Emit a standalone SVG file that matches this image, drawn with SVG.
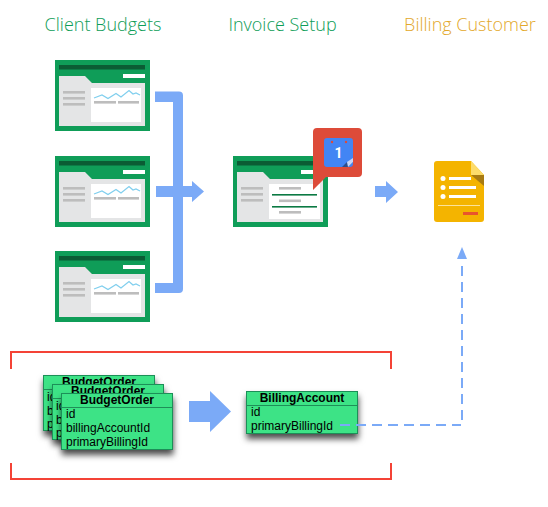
<svg xmlns="http://www.w3.org/2000/svg" width="548" height="507" viewBox="0 0 548 507">
<style>
.title{font-family:"Open Sans","Noto Sans",sans-serif;font-size:18px;font-weight:300;text-anchor:middle}
.th{font-family:"Liberation Sans",Arial,sans-serif;font-size:12px;font-weight:700;text-anchor:middle;fill:#000}
.tr{font-family:"Liberation Sans",Arial,sans-serif;font-size:12px;fill:#000}
.tb{fill:#3de386;stroke:#1f8f58;stroke-width:1}
.tl{stroke:#1f8f58;stroke-width:1}
.gl{fill:#bdbdbd}
.arrow{fill:#7baaf7}
</style>
<defs>
<filter id="sh" x="-15%" y="-15%" width="130%" height="160%"><feDropShadow dx="0.500" dy="5" stdDeviation="3" flood-color="#000" flood-opacity=".7"/></filter>
<g id="frame">
<rect width="95" height="71" fill="#0f9d58"/>
<rect x="4" y="5" width="86" height="4.500" fill="#0b5c34"/>
<rect x="68" y="14" width="22" height="4" fill="#fff"/>
<path d="M4 16H30L37 23H90V66H4Z" fill="#e4e5e6"/>
<rect class="gl" x="8" y="31" width="22" height="2.600"/><rect class="gl" x="8" y="37" width="22" height="2.600"/><rect class="gl" x="8" y="43" width="22" height="2.600"/>
</g>
<g id="sheet">
<use href="#frame"/>
<rect x="36" y="28" width="50" height="34" fill="#fff"/>
<path d="M39 38L47 35L53 38.500L61 33.500L66 37L74 30.500L78 34L81 33L85 35" fill="none" stroke="#81cfee" stroke-width="1.300"/>
<rect class="gl" x="39" y="41" width="22" height="2.600"/><rect class="gl" x="63" y="41" width="21" height="2.600"/>
</g>
</defs>
<text class="title" x="103" y="31" fill="#0f9d58">Client Budgets</text>
<text class="title" x="282.500" y="31" fill="#0f9d58">Invoice Setup</text>
<text class="title" x="470" y="31" fill="#e3a82b">Billing Customer</text>
<g id="sheet-1"><use href="#sheet" x="55" y="60"/></g>
<g id="sheet-2"><use href="#sheet" x="55" y="156"/></g>
<g id="sheet-3"><use href="#sheet" x="55" y="251"/></g>
<g id="invoice-setup">
<use href="#frame" x="233" y="156"/>
<rect x="269" y="184" width="51" height="35" fill="#fff"/>
<rect class="gl" x="279" y="187" width="22" height="2.600"/>
<rect x="272" y="194" width="45" height="1.600" fill="#0b7a43"/>
<rect class="gl" x="279" y="199.500" width="22" height="2.600"/>
<rect x="272" y="206" width="45" height="1.600" fill="#0b7a43"/>
<rect class="gl" x="279" y="211" width="22" height="2.600"/>
</g>
<g id="calendar">
<path d="M317 128H358Q362 128 362 132V173Q362 177 358 177H326L313 190V132Q313 128 317 128Z" fill="#dd4b39"/>
<rect x="324" y="138" width="29" height="29" rx="3" fill="#4285f4"/>
<circle cx="332" cy="142" r="1.200" fill="#dd4b39"/><circle cx="346" cy="142" r="1.200" fill="#dd4b39"/>
<path d="M353 162L348 167H342L347 162Z" fill="#2a4f8f"/><path d="M353 162V158L347 162L348 167Z" fill="#c5d5f7"/>
<text x="338.500" y="158" font-family="Roboto,'Liberation Sans',sans-serif" font-size="14" font-weight="700" fill="#fff" text-anchor="middle">1</text>
</g>
<g id="billing-doc">
<path d="M437 161H471L484 175V219Q484 222 481 222H437Q434 222 434 219V164Q434 161 437 161Z" fill="#f4b400"/>
<path d="M471 161L484 175H471Z" fill="#fddc6a"/><path d="M471 175H484V186Z" fill="#a87b12"/>
<g fill="#fff"><circle cx="443" cy="178.500" r="2.500"/><circle cx="443" cy="187.500" r="2.500"/><circle cx="443" cy="196.500" r="2.500"/>
<rect x="449" y="177" width="22" height="3"/><rect x="449" y="186" width="27" height="3"/><rect x="449" y="195" width="27" height="3"/></g>
<rect x="438" y="205" width="42" height="1" fill="#fbe29a"/>
<rect x="463" y="212" width="15" height="3" fill="#e8552d"/>
</g>
<g id="connectors">
<path class="arrow" d="M155 91.500H179Q183 91.500 183 95.500V289Q183 293 179 293H155V283H173V102H155Z"/>
<path class="arrow" d="M156 186H192V181L204 191.500L192 202V197H156Z"/>
<path class="arrow" d="M375 186H386V181L398 192L386 203V197H375Z"/>
<path class="arrow" d="M189 401H210V391L231 411.500L210 432V422H189Z"/>
</g>
<g id="budget-order-1">
<rect class="tb" x="43.500" y="375.500" width="111" height="55" filter="url(#sh)"/>
<line class="tl" x1="43.500" y1="389.500" x2="154.500" y2="389.500"/>
<text class="th" x="99" y="386">BudgetOrder</text>
<text class="tr" x="47" y="401">id</text><text class="tr" x="47" y="415">billingAccountId</text><text class="tr" x="47" y="428">primaryBillingId</text>
</g>
<g id="budget-order-2">
<rect class="tb" x="52.500" y="384.500" width="111" height="55" filter="url(#sh)"/>
<line class="tl" x1="52.500" y1="398.500" x2="163.500" y2="398.500"/>
<text class="th" x="108" y="395">BudgetOrder</text>
<text class="tr" x="56" y="410">id</text><text class="tr" x="56" y="424">billingAccountId</text><text class="tr" x="56" y="437">primaryBillingId</text>
</g>
<g id="budget-order-3">
<rect class="tb" x="61.500" y="393.500" width="111" height="56" filter="url(#sh)"/>
<line class="tl" x1="61.500" y1="407.500" x2="172.500" y2="407.500"/>
<text class="th" x="117" y="404">BudgetOrder</text>
<text class="tr" x="66" y="418">id</text><text class="tr" x="66" y="432">billingAccountId</text><text class="tr" x="66" y="446">primaryBillingId</text>
</g>
<g id="billing-account">
<rect class="tb" x="246.500" y="391.500" width="111" height="42" filter="url(#sh)"/>
<line class="tl" x1="246.500" y1="405.500" x2="357.500" y2="405.500"/>
<text class="th" x="302" y="402">BillingAccount</text>
<text class="tr" x="251" y="416">id</text><text class="tr" x="251" y="430">primaryBillingId</text>
</g>
<g id="dashed-link" fill="none" stroke="#7baaf7" stroke-width="2" stroke-dasharray="10 6">
<path d="M340 425H461"/>
<path d="M462 420V265"/>
<path d="M457 259L462 247L467 259Z" fill="#7baaf7" stroke="none"/>
</g>
<g id="red-bracket" fill="none" stroke="#f44336" stroke-width="2">
<path d="M11 369V352H391V369"/><path d="M11 463V479H391V463"/>
</g>
</svg>
